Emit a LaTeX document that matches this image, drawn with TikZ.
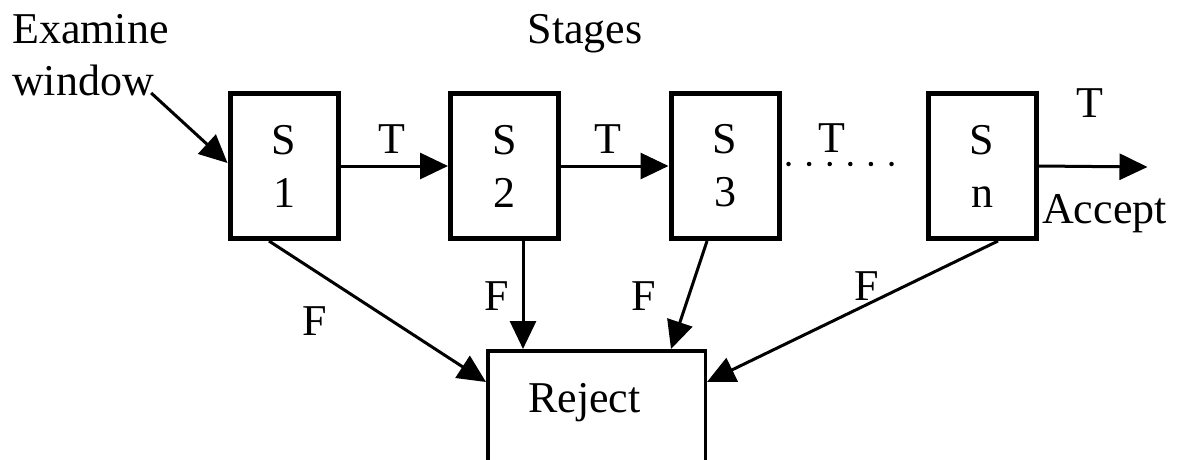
\documentclass[tikz,border=0pt]{standalone}
\usepackage{fontspec}
\setmainfont{Liberation Serif}
\usetikzlibrary{arrows.meta,calc}
\begin{document}
\begin{tikzpicture}[x=1pt,y=-1pt,
  font=\fontsize{44}{52}\selectfont,
  stagebox/.style={draw, line width=5pt, minimum width=108pt, minimum height=145pt,
    align=center, inner sep=0pt, font=\fontsize{44}{53}\selectfont},
  rejbox/.style={draw, line width=3.5pt, minimum width=217.5pt, minimum height=127.5pt, inner sep=0pt},
  lbl/.style={inner sep=0pt, anchor=base},
  arr/.style={line width=3pt, -{Triangle[length=28pt,width=26pt]}}]
\useasboundingbox (0,0) rectangle (1177,459);

% stages
\node[stagebox] (s1) at (284,166) {S\\1};
\node[stagebox] (s2) at (504.5,166) {S\\2};
\node[stagebox] (s3) at (725,166) {S\\3};
\node[stagebox] (sn) at (982,166) {S\\n};
\node[rejbox] (reject) at (596.5,414.5) {};

% texts
\node[lbl, anchor=base west] (exam1) at (12,43) {Examine};
\node[lbl, anchor=base west] (exam2) at (12,95) {window};
\node[lbl] (stages) at (585,43) {Stages};
\node[lbl] (rejtext) at (584.5,412) {Reject};
\node[lbl] (t1) at (392,153) {T};
\node[lbl] (t2) at (608,153) {T};
\node[lbl] (t3) at (832,152) {T};
\node[lbl] (t4) at (1090,117) {T};
\node[lbl, anchor=base west] (accept) at (1042,223) {Accept};
\node[lbl] (f1) at (315,335) {F};
\node[lbl] (f2) at (497,310) {F};
\node[lbl] (f3) at (644,310) {F};
\node[lbl] (f4) at (867,300) {F};

% input arrow
\coordinate (ex) at ($(exam2.base east)+(-3,-2)$);
\draw[arr] (ex) -- ($(s1.west)+(0,-3)$);

% T arrows
\draw[arr] (s1.east) -- (s2.west);
\draw[arr] (s2.east) -- (s3.west);
\draw[line width=4.5pt, line cap=round, dash pattern=on 0pt off 20.6pt]
  ($(s3.east)+(7,-2)$) -- ++(104,0);
\coordinate (acc) at ($(sn.east)+(109,1)$);
\draw[arr] (sn.east) -- (acc);

% F arrows
\draw[arr] ($(s1.south)+(-15,0)$) -- ($(reject.north west)+(0,33)$);
\draw[arr] ($(s2.south)+(18.5,0)$) -- ($(reject.north west)+(37,0)$);
\draw[arr] ($(s3.south)+(-18,0)$) -- ($(reject.north west)+(185,0)$);
\draw[arr] ($(sn.south)+(16,0)$) -- ($(reject.north east)+(0,33)$);
\end{tikzpicture}
\end{document}
